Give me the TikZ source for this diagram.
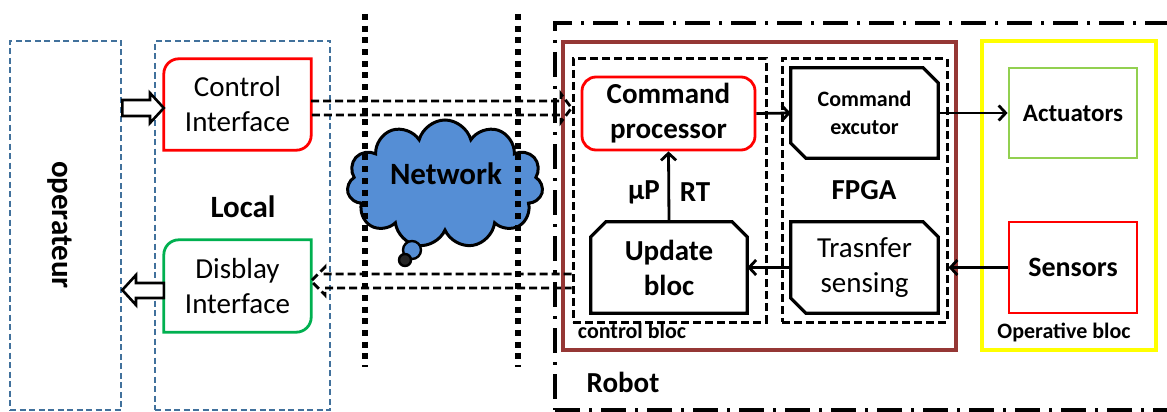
\documentclass[tikz,border=0pt]{standalone}
\usepackage{fontspec}
\setmainfont{Carlito}
\usetikzlibrary{shapes.symbols,arrows.meta,calc}
\definecolor{bluedash}{RGB}{65,113,156}
\definecolor{cloudblue}{RGB}{85,142,213}
\definecolor{dispgreen}{RGB}{0,176,80}
\definecolor{actgreen}{RGB}{146,208,80}
\definecolor{brownred}{RGB}{149,55,53}
\definecolor{yel}{RGB}{255,255,0}
\begin{document}
\begin{tikzpicture}[x=1pt,y=-1pt,
 box/.style={rectangle,inner sep=0pt},
 bluebox/.style={box,draw=bluedash,line width=2.6pt,dash pattern=on 6pt off 3.5pt},
 fs/.style={font=\fontsize{29}{35}\selectfont},
 fb/.style={font=\fontsize{29}{35}\selectfont\bfseries},
 fsmall/.style={font=\fontsize{22}{27}\selectfont\bfseries},
 blockarrow/.style={draw=black,fill=white,line width=2.6pt,line join=miter},
 dasharr/.style={draw=black,line width=2.8pt,dash pattern=on 8pt off 4pt},
 blackdash/.style={box,draw=black,line width=3pt,dash pattern=on 8pt off 4pt},
 arr/.style={draw=black,line width=2.8pt,-{Straight Barb[length=7pt,width=15pt]}},
 dotline/.style={draw=black,line width=6pt,dash pattern=on 6pt off 5.7pt},
 outline/.style={line width=3.2pt,line join=miter},
]
\useasboundingbox (0,0) rectangle (1167,412);

% left blocks
\node[bluebox,minimum width=111pt,minimum height=369pt] (op) at (65.5,225.5) {};
\node[rotate=-90,font=\fontsize{31}{36}\selectfont\bfseries] (optext) at (60,225) {operateur};
\node[bluebox,minimum width=175pt,minimum height=369pt] (loc) at (242.5,225.5) {};
\node[font=\fontsize{31}{36}\selectfont\bfseries] (loctext) at (243,207) {Local};

\node[box,fill=white,minimum width=147pt,minimum height=91pt,align=center,fs] (ci) at (237.5,104.5) {Control\\Interface};
\draw[red,line width=2.8pt] (ci.south west) -- ([yshift=-15pt]ci.north west) arc[start angle=180,end angle=90,radius=15pt] -- (ci.north east) -- ([yshift=15pt]ci.south east) arc[start angle=0,end angle=-90,radius=15pt] -- cycle;

\node[box,fill=white,minimum width=147pt,minimum height=92pt,align=center,fs] (di) at (237.5,286) {Disblay\\Interface};
\draw[dispgreen,line width=2.8pt] (di.south west) -- ([yshift=-15pt]di.north west) arc[start angle=180,end angle=90,radius=15pt] -- (di.north east) -- ([yshift=15pt]di.south east) arc[start angle=0,end angle=-90,radius=15pt] -- cycle;

% hollow block arrows
\draw[blockarrow] (op.east |- 0,100) -- (150,100) -- (150,93) -- (ci.west |- 0,108) -- (150,123) -- (150,116) -- (op.east |- 0,116) -- cycle;
\draw[blockarrow] (di.west |- 0,283) -- (136,283) -- (136,275) -- (op.east |- 0,290) -- (136,305) -- (136,298) -- (di.west |- 0,298) -- cycle;

% robot side containers
\node[box,draw=black,line width=3.2pt,dash pattern=on 25pt off 9pt on 3pt off 9pt,minimum width=620pt,minimum height=387pt] (robot) at (865,216.5) {};
\node[fb] (robottext) at (623,382) {Robot};
\node[box,draw=brownred,line width=3.2pt,minimum width=393pt,minimum height=308pt] (ctrl) at (759.5,196) {};
\node[blackdash,minimum width=193pt,minimum height=263pt] (cb) at (669.5,190.5) {};
\node[blackdash,minimum width=165pt,minimum height=263pt] (fpga) at (864.5,190.5) {};
\node[fsmall] (cbtext) at (632,331) {control bloc};
\node[fb] (fpgatext) at (864,190) {FPGA};

\node[box,draw=red,line width=2.8pt,rounded corners=14pt,minimum width=173pt,minimum height=73pt,align=center,fb] (cp) at (668.5,113.5) {Command\\processor};

\node[box,minimum width=156pt,minimum height=91pt,align=center,fb] (ub) at (669,267.5) {Update\\bloc};
\draw[outline] (ub.south west) -- ([yshift=-15pt]ub.north west) -- ([xshift=15pt]ub.north west) -- ([xshift=-15pt]ub.north east) -- ([yshift=-15pt]ub.north east) -- (ub.south east) -- cycle;

\node[box,minimum width=147pt,minimum height=90pt,align=center,font=\fontsize{22}{28}\selectfont\bfseries] (ce) at (864.5,113) {Command\\excutor};
\draw[outline] (ce.north west) -- ([xshift=-15pt]ce.north east) -- ([yshift=-15pt]ce.north east) -- (ce.south east) -- ([xshift=15pt]ce.south west) -- ([yshift=15pt]ce.south west) -- cycle;

\node[box,minimum width=147pt,minimum height=91pt,align=center,fs] (ts) at (864.5,267.5) {Trasnfer\\sensing};
\draw[outline] (ts.north west) -- ([xshift=-15pt]ts.north east) -- ([yshift=-15pt]ts.north east) -- (ts.south east) -- ([xshift=15pt]ts.south west) -- ([yshift=15pt]ts.south west) -- cycle;

\node[fb] (mup) at (644,192) {μP};
\node[fb] (rt) at (695,192) {RT};

% operative bloc
\node[box,draw=yel,line width=3.2pt,minimum width=174pt,minimum height=309pt] (ob) at (1069,195.5) {};
\node[fsmall] (obtext) at (1064,332) {Operative bloc};
\node[box,draw=actgreen,line width=2.8pt,minimum width=128pt,minimum height=90pt,font=\fontsize{25}{30}\selectfont\bfseries] (act) at (1073,113) {Actuators};
\node[box,draw=red,line width=2.8pt,minimum width=128pt,minimum height=91pt,font=\fontsize{28}{34}\selectfont\bfseries] (sen) at (1073,267.5) {Sensors};

% arrows
\draw[arr] (cp.east) -- (ce.west);
\draw[arr] (ub.north) -- (cp.south);
\draw[arr] (ts.west) -- (ub.east);
\draw[arr] (ce.east) -- (act.west);
\draw[arr] (sen.west) -- (fpga.east |- sen.west);

% dashed network arrows
\draw[dasharr] (ci.east |- 0,101) -- (561,101) -- (561,94) -- (cb.west |- 0,108) -- (561,122) -- (561,115) -- (ci.east |- 0,115);
\draw[dasharr] (cb.west |- 0,274) -- (325,274) -- (325,267) -- (di.east |- 0,281) -- (325,295) -- (325,288) -- (cb.west |- 0,288);

% cloud
\node[cloud,cloud puffs=11,cloud ignores aspect,draw=black,line width=3pt,fill=cloudblue,minimum width=196pt,minimum height=128pt] (net) at (445,184) {};
\node[circle,draw=black,line width=2.4pt,fill=cloudblue,minimum size=18pt,inner sep=0pt] (tail1) at (412,250) {};
\node[circle,draw=black,line width=2.4pt,fill=black!85,minimum size=12pt,inner sep=0pt] (tail2) at (405,260) {};
\node[font=\fontsize{31}{36}\selectfont\bfseries] (nettext) at (446,174) {Network};

% dotted separators
\coordinate (d1t) at (365,14);
\coordinate (d1b) at (365,367);
\coordinate (d2t) at (518,14);
\coordinate (d2b) at (518,367);
\draw[dotline] (d1t) -- (d1b);
\draw[dotline] (d2t) -- (d2b);
\end{tikzpicture}
\end{document}
